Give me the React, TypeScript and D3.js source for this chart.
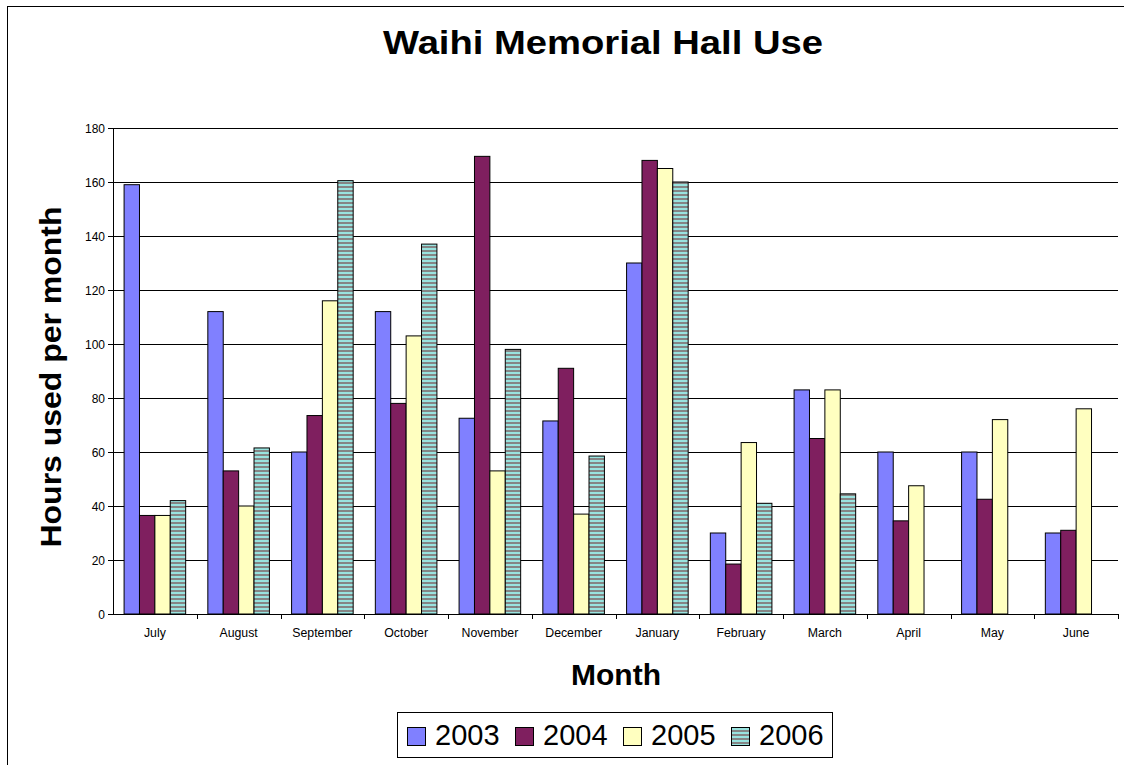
import React from 'react';
import * as d3 from 'd3';

const months = ['July', 'August', 'September', 'October', 'November', 'December', 'January', 'February', 'March', 'April', 'May', 'June'];
const years = ['2003', '2004', '2005', '2006'];

const hours2003 = [159, 112, 60, 112, 72.5, 71.5, 130, 30, 83, 60, 60, 30];
const hours2004 = [36.5, 53, 73.5, 78, 169.5, 91, 168, 18.5, 65, 34.5, 42.5, 31];
const hours2005 = [36.5, 40, 116, 103, 53, 37, 165, 63.5, 83, 47.5, 72, 76];
const hours2006 = [42, 61.5, 160.5, 137, 98, 58.5, 160, 41, 44.5, null, null, null];

const yTicks = [0, 20, 40, 60, 80, 100, 120, 140, 160, 180];
const fills = ['#8080ff', '#7f1f5f', '#ffffc0', 'url(#stripes)'];

const W = 1124;
const H = 765;
const left = 113;
const right = 1118;
const top = 128;
const bottom = 614;

const App = () => {
  const series = [hours2003, hours2004, hours2005, hours2006];

  const x = d3.scaleBand().domain(months).range([left, right]).padding(0);
  const inner = d3.scaleBand().domain(years)
    .range([0, x.bandwidth()])
    .paddingInner(0)
    .paddingOuter(0.72);
  const y = d3.scaleLinear().domain([0, 180]).range([bottom, top]);

  const font = 'Arial, "Liberation Sans", sans-serif';
  const px = (v: number) => Math.round(v) + 0.5;

  return (
    <svg width={W} height={H} style={{ position: 'absolute', left: 0, top: 0, background: '#fff' }} fontFamily={font}>
      <defs>
        <pattern id="stripes" width="4" height="4" patternUnits="userSpaceOnUse">
          <rect width="4" height="4" fill="#99e3df" />
          <rect y="2" width="4" height="2" fill="#858585" />
        </pattern>
      </defs>
      <rect x={7.5} y={6.5} width={1130} height={770} fill="none" stroke="#000" strokeWidth={1} />

      <text x={603} y={54} textAnchor="middle" fontSize={34} fontWeight="bold" textLength={440} lengthAdjust="spacingAndGlyphs">Waihi Memorial Hall Use</text>

      {/* gridlines */}
      {yTicks.filter((t) => t > 0).map((t) => (
        <line key={t} x1={left} x2={right} y1={px(y(t))} y2={px(y(t))} stroke="#000" strokeWidth={1} />
      ))}

      {/* bars */}
      {series.map((vals, si) =>
        vals.map((v, mi) => {
          if (v == null) return null;
          const bx = (x(months[mi]) as number) + (inner(years[si]) as number);
          return (
            <rect
              key={`${si}-${mi}`}
              x={bx}
              y={y(v)}
              width={inner.bandwidth()}
              height={bottom - y(v)}
              fill={fills[si]}
              stroke="#000"
              strokeWidth={1}
            />
          );
        })
      )}

      {/* axes */}
      <line x1={left + 0.5} x2={left + 0.5} y1={top} y2={bottom} stroke="#000" />
      <line x1={left} x2={right} y1={bottom + 0.5} y2={bottom + 0.5} stroke="#000" />
      {yTicks.map((t) => (
        <g key={t}>
          <line x1={left - 5} x2={left} y1={px(y(t))} y2={px(y(t))} stroke="#000" />
          <text x={left - 8} y={y(t) + 4.5} textAnchor="end" fontSize={12}>{t}</text>
        </g>
      ))}
      {months.map((m) => (
        <g key={m}>
          <line x1={px((x(m) as number) + x.bandwidth())} x2={px((x(m) as number) + x.bandwidth())} y1={bottom} y2={bottom + 5} stroke="#000" />
          <text x={(x(m) as number) + x.bandwidth() / 2} y={637} textAnchor="middle" fontSize={12.3}>{m}</text>
        </g>
      ))}

      <text x={616} y={685} textAnchor="middle" fontSize={30} fontWeight="bold">Month</text>
      <text transform="translate(61,377) rotate(-90)" textAnchor="middle" fontSize={30} fontWeight="bold" textLength={341} lengthAdjust="spacingAndGlyphs">Hours used per month</text>

      {/* legend */}
      <rect x={397.5} y={712.5} width={435} height={45} fill="#fff" stroke="#000" />
      {years.map((yr, i) => {
        const lx = 407 + i * 108;
        return (
          <g key={yr}>
            <rect x={lx + 0.5} y={727.5} width={18} height={18} fill={fills[i]} stroke="#000" />
            <text x={lx + 28} y={745} fontSize={29}>{yr}</text>
          </g>
        );
      })}
    </svg>
  );
};

export default App;
